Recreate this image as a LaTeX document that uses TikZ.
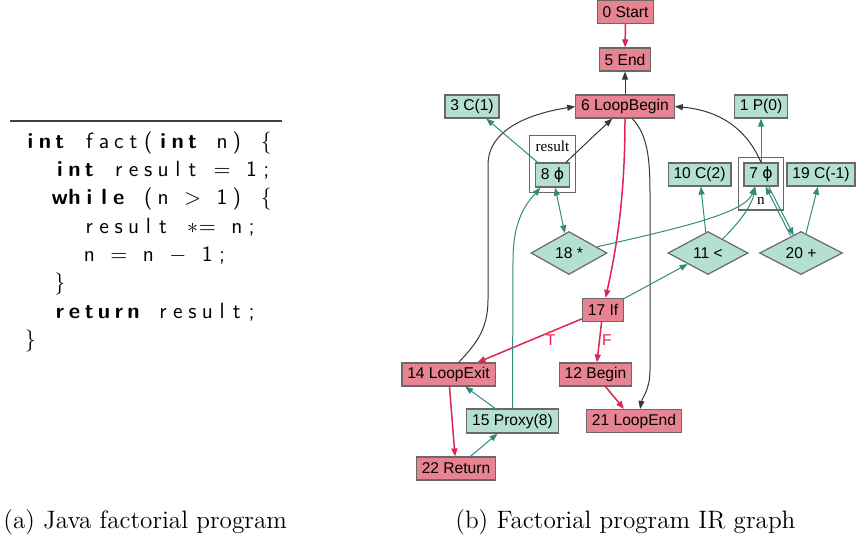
\documentclass[tikz,border=0pt]{standalone}
\usepackage{fontspec}
\usepackage{tikz}
\usetikzlibrary{shapes.geometric, arrows.meta, fit}
\newfontfamily\irfont{Liberation Sans}
\newfontfamily\irserif{Liberation Serif}
\newfontfamily\phifont{DejaVu Sans}
\definecolor{irpink}{RGB}{232, 131, 146}
\definecolor{irmint}{RGB}{181, 223, 210}
\definecolor{irline}{RGB}{105, 105, 105}
\definecolor{ctrlred}{RGB}{226, 35, 82}
\definecolor{datateal}{RGB}{47, 140, 125}
\definecolor{depgray}{RGB}{55, 55, 55}

% fixed columns for the listing
\newlength\colw
\setlength\colw{7.375pt}
\ExplSyntaxOn
\NewDocumentCommand\codecols{m}
  {
    \tl_map_inline:nn {#1}
      {
        \makebox[\colw]{ \str_case:nnF {##1}
          {
            {=}{$=$}
            {>}{$>$}
            {-}{$-$}
            {*}{$\ast$}
          }
          {##1} }
      }
  }
\ExplSyntaxOff
\newcommand\codekw[1]{{\bfseries\codecols{#1}}}
\newcommand\codelb{\makebox[\colw]{$\{$}}
\newcommand\coderb{\makebox[\colw]{$\}$}}
\newcommand\phisym{{\phifont ϕ}}

\begin{document}
\begin{tikzpicture}[
    x=0.5pt, y=-0.5pt,
    ctrlnode/.style={
        rectangle, draw=irline, line width=0.6pt, fill=irpink,
        minimum height=11.5pt, inner xsep=2.7pt, inner ysep=0pt,
        font=\irfont\fontsize{7.8}{9}\selectfont
    },
    valnode/.style={ctrlnode, fill=irmint},
    opnode/.style={
        diamond, draw=irline, line width=0.6pt, fill=irmint,
        minimum height=21.5pt, inner sep=0pt,
        font=\irfont\fontsize{7.8}{9}\selectfont
    },
    cluster/.style={rectangle, draw=irline, line width=0.6pt, inner sep=2.5pt},
    clustertitle/.style={inner sep=0pt, font=\irserif\fontsize{7.6}{9}\selectfont},
    ctrlflow/.style={-{Triangle[length=4pt, width=3pt]}, draw=ctrlred, line width=0.75pt},
    dataflow/.style={-{Triangle[length=4pt, width=3pt]}, draw=datateal, line width=0.5pt},
    depflow/.style={-{Triangle[length=4pt, width=3pt]}, draw=depgray, line width=0.5pt},
    branchlabel/.style={text=ctrlred, inner sep=1pt, font=\irfont\fontsize{7.8}{9}\selectfont},
    codeline/.style={anchor=base west, inner sep=0pt, font=\sffamily\fontsize{11}{13}\selectfont},
    caption/.style={anchor=base west, inner sep=0pt, font=\fontsize{12.6}{15}\selectfont}
]
\useasboundingbox (0,0) rectangle (856,543);

% Listing
\draw[line width=0.6pt, black!75] (10,121) -- (282,121);
\node[codeline] (l1) at (22.6,148.3) {\codekw{int}\codecols{~fact(}\codekw{int}\codecols{~n)~}\codelb};
\node[codeline] (l2) at (52.1,176.6) {\codekw{int}\codecols{~result~=~1;}};
\node[codeline] (l3) at (52.1,204.9) {\codekw{while}\codecols{~(n~>~1)~}\codelb};
\node[codeline] (l4) at (81.6,233.2) {\codecols{result~*=~n;}};
\node[codeline] (l5) at (81.6,261.5) {\codecols{n~=~n~-~1;}};
\node[codeline] (l6) at (52.1,289.8) {\coderb};
\node[codeline] (l7) at (52.1,318.1) {\codekw{return}\codecols{~result;}};
\node[codeline] (l8) at (22.6,346.4) {\coderb};

% Control nodes
\node[ctrlnode] (start0) at (625.5,12) {0 Start};
\node[ctrlnode] (end5) at (625,59.5) {5 End};
\node[ctrlnode] (lbegin6) at (625,106.5) {6 LoopBegin};
\node[ctrlnode] (if17) at (603,310) {17 If};
\node[ctrlnode] (lexit14) at (448.5,374.5) {14 LoopExit};
\node[ctrlnode] (begin12) at (595.5,374.5) {12 Begin};
\node[ctrlnode] (lend21) at (634,421) {21 LoopEnd};
\node[ctrlnode] (ret22) at (456,468.5) {22 Return};

% Value nodes
\node[valnode] (c3) at (472,106.5) {3 C(1)};
\node[valnode] (p1) at (761,106.5) {1 P(0)};
\node[valnode, minimum height=12pt] (phi8) at (552.5,175) {8 \phisym};
\node[valnode] (c10) at (699.5,174.5) {10 C(2)};
\node[valnode] (phi7) at (761,174.5) {7 \phisym};
\node[valnode] (c19) at (821,174.5) {19 C(-1)};
\node[valnode, minimum height=12pt] (proxy15) at (512.5,421) {15 Proxy(8)};
\node[opnode, minimum width=38pt] (mul18) at (569,253) {18 *};
\node[opnode, minimum width=40pt] (lt11) at (708,253) {11 <};
\node[opnode, minimum width=41.5pt] (add20) at (801,253) {20 +};

% Clusters
\node[clustertitle] (resultlbl) at (552.5,146) {result};
\node[cluster, fit=(resultlbl)(phi8)] (resultbox) {};
\node[clustertitle] (nlbl) at (761,201) {n};
\node[cluster, fit=(phi7)(nlbl)] (nbox) {};

% Control flow
\draw[ctrlflow] (start0) -- (end5);
\draw[ctrlflow] (lbegin6) .. controls (625,200) and (616,250) .. (if17);
\draw[ctrlflow] (if17) -- node[branchlabel, pos=0.3, below] {T} (lexit14);
\draw[ctrlflow] (if17) -- node[branchlabel, pos=0.45, right] {F} (begin12);
\draw[ctrlflow] (begin12) -- (lend21);
\draw[ctrlflow] (lexit14) -- (ret22);

% Dependencies
\draw[depflow] (lbegin6) -- (end5);
\draw[depflow] (phi8) -- (lbegin6);
\draw[depflow] (phi7.north) .. controls (745,125) and (715,110) .. (lbegin6.east);
\draw[depflow] (lexit14.50) .. controls (475,345) and (488,330) .. (488,300)
    -- (488,165) .. controls (488,125) and (540,112) .. (lbegin6.west);
\draw[depflow] (lbegin6.-59) .. controls (648,135) and (650,160) .. (650,195)
    -- (650,370) .. controls (650,390) and (642,398) .. (lend21.63);

% Data flow
\draw[dataflow] (phi8) -- (c3);
\draw[dataflow] (phi7) -- (p1);
\draw[dataflow, {Triangle[length=4pt, width=3pt]}-{Triangle[length=4pt, width=3pt]}] (phi8) -- (mul18);
\draw[dataflow] (mul18) .. controls (690,226) and (745,212) .. (phi7.244);
\draw[dataflow] (lt11) -- (c10);
\draw[dataflow] (lt11) .. controls (740,222) and (752,205) .. (phi7.244);
\draw[dataflow] (if17) -- (lt11);
\draw[dataflow, transform canvas={xshift=0.8pt}] (phi7) -- (add20);
\draw[dataflow, transform canvas={xshift=-0.8pt}] (add20) -- (phi7);
\draw[dataflow] (add20) -- (c19);
\draw[dataflow] (proxy15) -- (lexit14);
\draw[dataflow] (ret22) -- (proxy15);
\draw[dataflow] (proxy15.north) -- (513,260) .. controls (513,215) and (530,200) .. (phi8.226);

% Captions
\node[caption] (capa) at (3,528) {(a) Java factorial program};
\node[caption] (capb) at (455,528) {(b) Factorial program IR graph};

\end{tikzpicture}
\end{document}
